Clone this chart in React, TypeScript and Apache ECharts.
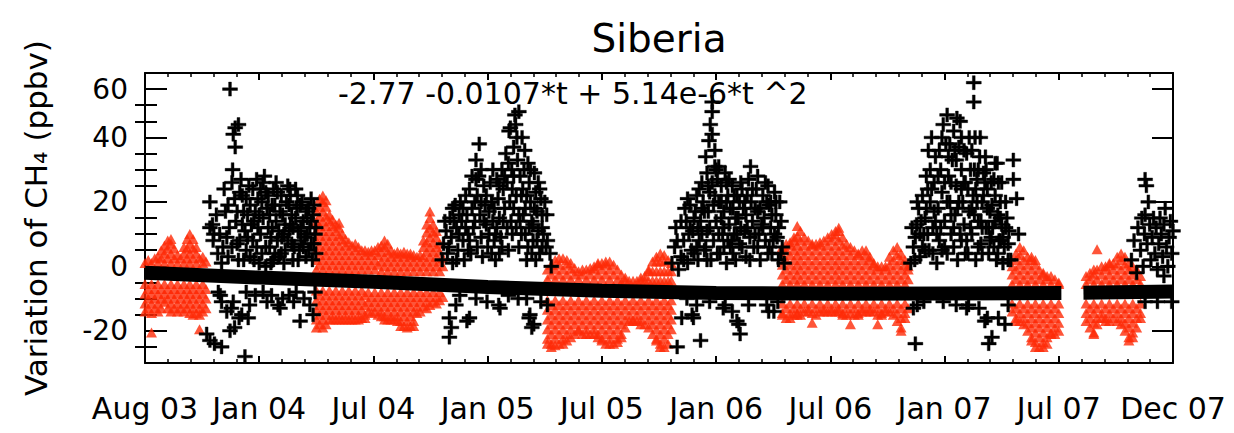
import React, { useEffect, useRef } from 'react';
import * as echarts from 'echarts';

// ---------- axes / text ----------
const chartTitle = 'Siberia';
const fitFormula = '-2.77 -0.0107*t + 5.14e-6*t ^2';
const yAxisName = 'Variation of CH\u2084 (ppbv)';
const xTickLabels = ['Aug 03', 'Jan 04', 'Jul 04', 'Jan 05', 'Jul 05', 'Jan 06', 'Jul 06', 'Jan 07', 'Jul 07', 'Dec 07'];
const xMin = 0;
const xMax = 1584; // days since Aug 03
const xStep = 176;
const yMin = -30;
const yMax = 60;
const yTickValues = [-20, 0, 20, 40, 55];
const yTickLabels = ['-20', '0', '20', '40', '60'];
const yMinorValues = [-25, -15, -10, -5, 5, 10, 15, 25, 30, 35, 45, 50];

// ---------- fitted curve ----------
const fitPart1 = [[0, -2.0], [176, -3.5], [352, -4.8], [528, -6.4], [704, -7.6], [880, -8.3], [1056, -8.5], [1232, -8.4], [1412, -8.3]];
const fitPart2 = [[1446, -8.2], [1584, -7.8]];

// ---------- red (summer) observations: [day, values...] ----------
const redSummer03 = [
  [0, 1, -5.5, -8.5, -11.5, -14], [5, 2, -7, -10, -13], [10, 1, -5.5, -8.5, -11.5, -14.5, -20.5],
  [15, 2.5, -7, -10, -13], [20, 1, 3, -5.5, -8.5, -11.5, -14], [25, 2.5, 5, -7, -10, -13],
  [30, 1, 4, 6.5, -5.5, -8.5, -11], [35, 2.5, 5.5, 8, -7, -10, -13], [40, 1, 4, 7, 8.5, -5.5, -8.5, -11.5, -14],
  [45, 2.5, 5.5, -7, -10, -13], [50, 1, 3.5, -5.5, -8.5, -11.5, -14], [55, 2.5, -7, -10, -13],
  [60, 1, 4, 6, -5.5, -8.5, -11.5, -14], [65, 2.5, 5.5, 8.5, -7, -10, -13], [69, 1, 4, 7, 10, -5.5, -8.5, -11.5, -14.5],
  [74, 2.5, 5.5, 8.5, -7, -10, -13, -15], [79, 1, 4, 6, -5.5, -8.5, -11.5, -14.5], [84, 2.5, -7, -10, -13, -15, -19.5],
  [89, 1, 3, -5.5, -8.5, -11.5, -14], [94, 1.5, -7, -10, -13],
];
const redSummer04 = [
  [264, -1, 2, 5, 8, 11, 14, 17, -7.5, -10.5, -13.5, -16.5, -19], [269, 0.5, 3.5, 6.5, 9.5, 12.5, 15.5, 18.5, 21, -9, -12, -15, -18],
  [274, -1, 2, 5, 8, 11, 14, 17, 20, 22, -7.5, -10.5, -13.5, -16.5, -19], [279, 0.5, 3.5, 6.5, 9.5, 12.5, 15.5, 18.5, 20.5, -9, -12, -15, -18],
  [284, -1, 2, 5, 8, 11, 14, 16, -7.5, -10.5, -13.5, -16.5], [289, 0.5, 3.5, 6.5, 9.5, 12.5, 14.5, -9, -12, -15, -16.5],
  [294, -1, 2, 5, 8, 11, 13, -7.5, -10.5, -13.5, -16.5], [299, 0.5, 3.5, 6.5, 9.5, 12, 13.5, -9, -12, -15, -16.5],
  [304, -1, 2, 5, 8, 10, -7.5, -10.5, -13.5, -16.5], [309, 0.5, 3.5, 6.5, 8.5, -9, -12, -15, -16.5],
  [314, -1, 2, 5, 7.5, -7.5, -10.5, -13.5, -16.5], [319, 0.5, 3.5, 6.5, -9, -12, -15, -16.5],
  [324, -1, 2, 5, 7, -7.5, -10.5, -13.5, -16.5], [329, 0.5, 3.5, 6, -9, -12, -15, -16.5],
  [334, -1, 2, 5, -7.5, -10.5, -13.5, -16], [339, 0.5, 3.5, 5, -9, -12, -15, -16],
  [344, -1, 2, 4.5, -8, -11, -14], [349, 0.5, 3.5, 5, -9.5, -12.5, -14.5],
  [354, -1, 2, 5, -8, -11, -14], [359, 0.5, 3.5, 6, -9.5, -12.5, -15],
  [364, -1.5, 1.5, 4.5, 6.5, -8, -11, -14, -15.5], [369, 0, 3, 6, 8, -9.5, -12.5, -15.5, -16.5],
  [374, -1.5, 1.5, 4.5, 7, -8, -11, -14, -16.5], [379, 0, 3, 5, -9.5, -12.5, -15.5, -16.5],
  [384, -1.5, 1.5, 4, -8, -11, -14, -16.5], [389, 0, 3, 4.5, -9.5, -12.5, -15.5, -17],
  [394, -1.5, 1.5, 4, -8, -11, -14, -17, -18.5], [399, 0, 3, 4.5, -9.5, -12.5, -15.5, -18.5],
  [404, -1.5, 1.5, 4, -8, -11, -14, -17, -19], [409, 0, 3, 4, -9.5, -12.5, -15.5, -18.5],
  [414, -1.5, 1.5, 3.5, -8, -11, -14, -17, -18.5], [419, 0, 3, -9.5, -12.5, -14.5],
  [424, -1.5, 1.5, 3.5, -8, -11, -14], [429, 0, 3, 6, 8, -9.5, -12.5],
  [434, -1.5, 1.5, 4.5, 7.5, 10.5, 13, -8, -11, -13], [439, 0, 3, 6, 9, 12, 15, 17, -9.5, -12],
  [444, -1.5, 1.5, 4.5, 7.5, 10.5, 13, -8, -11], [449, 0, 3, 6, 9, 11, -9.5, -11.5],
  [454, -1.5, 1.5, 4.5, 7, -8, -10.5], [459, 0, 2.5, -9.5],
];
const redSummer05 = [
  [620, -4, -1, -10.5, -13.5, -16.5, -19.5, -22.5, -24], [626, -2.5, 0.5, -12, -15, -18, -21, -24, -25],
  [632, -4, -1, 2, -10.5, -13.5, -16.5, -19.5, -22.5, -24.5], [638, -2.5, 0.5, 2.5, -12, -15, -18, -21, -24],
  [644, -4, -1, 2.5, -10.5, -13.5, -16.5, -19.5, -22.5, -24], [650, -2.5, 0.5, 2, -12, -15, -18, -21, -23],
  [656, -4, -1, 1, -10.5, -13.5, -16.5, -19.5, -22], [662, -2.5, -0.5, -12, -15, -18, -21],
  [668, -4, -1.5, -10.5, -13.5, -16.5, -19.5, -20], [674, -2.5, -1, -12, -15, -18, -21],
  [680, -4, -1, -10.5, -13.5, -16.5, -19.5, -21], [686, -2.5, -0.5, -12, -15, -18, -21],
  [692, -4, -1, 0, -10.5, -13.5, -16.5, -19.5, -21], [698, -2.5, 0.5, 1, -12, -15, -18, -21, -22],
  [704, -4, -1, 1, -10.5, -13.5, -16.5, -19.5, -22.5, -23], [710, -2.5, 0.5, 1.5, -12, -15, -18, -21, -24],
  [716, -4, -1, 1.5, -10.5, -13.5, -16.5, -19.5, -22.5, -24], [722, -2.5, 0.5, -12, -15, -18, -21, -24],
  [728, -4, -1, -10.5, -13.5, -16.5, -19.5, -22.5, -23.5], [734, -5, -2.5, -12, -15, -18, -21, -22],
  [740, -4.5, -3.5, -10.5, -13.5, -16.5, -19], [746, -4.5, -12, -15, -17],
  [752, -4.5, -10.5, -13.5, -16.5, -17], [758, -4.5, -12, -15, -17],
  [764, -4.5, -3.5, -10.5, -13.5, -16.5, -18], [770, -4.5, -3, -12, -15, -18],
  [776, -4.5, -1.5, -1, -10.5, -13.5, -16.5, -19], [782, -4.5, -1.5, 1.5, -12, -15, -18, -21],
  [788, -4.5, -1.5, 1.5, 3, -10.5, -13.5, -16.5, -19.5, -22.5, -23], [794, -4.5, -1.5, 1.5, 4, -12, -15, -18, -21, -24, -25],
  [800, -4.5, -1.5, 1.5, 3.5, -10.5, -13.5, -16.5, -19.5, -22.5, -25], [806, -4.5, -1.5, 2, -12, -15, -18, -21, -24],
  [811, -4.5, -1.5, 1, -10.5, -13.5, -16.5, -19.5],
];
const redSummer06 = [
  [982, -5.5, -2.5, 0.5, 3.5, 6, -11.5, -14.5, -15], [988, -4, -1, 2, 5, 7, -13, -16],
  [994, -5.5, -2.5, 0.5, 3.5, 6.5, 7.5, -11.5, -14.5, -16], [1000, -4, -1, 2, 5, 8, 9, -13, -15],
  [1005, -5.5, -2.5, 0.5, 3.5, 6.5, 9.5, 12.5, -11.5, -14.5, -15], [1010, -4, -1, 2, 5, 8, 11, -13, -15],
  [1016, -5.5, -2.5, 0.5, 3.5, 6.5, 9, -11.5, -14], [1022, -4, -1, 2, 5, 8, -13, -14],
  [1028, -5.5, -2.5, 0.5, 3.5, 6.5, 7, -11.5, -14.5, -17.5], [1034, -4, -1, 2, 5, 7, -13, -15],
  [1040, -5.5, -2.5, 0.5, 3.5, 6.5, 7.5, -11.5, -14], [1046, -4, -1, 2, 5, 8, -13, -14],
  [1052, -5.5, -2.5, 0.5, 3.5, 6.5, 9, -11.5, -14], [1058, -4, -1, 2, 5, 8, 10, -13, -14],
  [1064, -5.5, -2.5, 0.5, 3.5, 6.5, 9.5, 11, -11.5, -14], [1069, -4, -1, 2, 5, 8, 11, 12, -13, -14],
  [1075, -5.5, -2.5, 0.5, 3.5, 6.5, 9, -11.5, -14.5, -15], [1081, -4, -1, 2, 5, 7, -13, -15],
  [1087, -5.5, -2.5, 0.5, 3.5, 6, -11.5, -14.5, -18], [1093, -4, -1, 2, 5, -13, -15],
  [1099, -5.5, -2.5, 0.5, 3.5, 4, -11.5, -14.5, -15], [1105, -4, -1, 2, 5, -13, -14],
  [1111, -5.5, -2.5, 0.5, 3.5, 5, -11.5, -14], [1117, -4, -1, 2, 3, -13, -14],
  [1123, -5.5, -2.5, 0.5, 1, -11.5, -14], [1129, -4, -1, 0, -13, -15, -18],
  [1135, -5.5, -2.5, 0, -11.5, -14.5, -15], [1141, -4, -1, 0, -13, -14],
  [1147, -5.5, -2.5, 0.5, 3, -11.5, -14], [1153, -4, -1, 2, 5, -13, -15],
  [1159, -5.5, -2.5, 0.5, 3.5, 6, -11.5, -14.5, -17], [1165, -4, -1, 2, 4, -13, -16, -19, -20],
  [1171, -5.5, -2.5, 0.5, 2, -11.5, -14.5, -16], [1176, -4, -1, 0, -13],
];
const redSummer07a = [
  [1336, -5.5, -2.5, 0, -11.5, -14], [1342, -4, -1, 2, 4, -13, -16, -17],
  [1348, -5.5, -2.5, 0.5, 3.5, 6, -11.5, -14.5, -17], [1354, -4, -1, 2, 5, -13, -16, -18],
  [1360, -5.5, -2.5, 0.5, 3, -11.5, -14.5, -17.5, -20], [1366, -4, -1, 2, 3, -13, -16, -19, -22, -23],
  [1372, -5.5, -2.5, 0.5, 2, -11.5, -14.5, -17.5, -20.5, -23.5, -25], [1378, -4, -1, -13, -16, -19, -22, -25],
  [1384, -5.5, -2.5, -2, -11.5, -14.5, -17.5, -20.5, -23.5, -25], [1390, -4, -3, -13, -16, -19, -22, -24],
  [1396, -5.5, -3, -11.5, -14.5, -17.5, -20.5, -21], [1402, -4, -13, -16, -19, -21],
  [1408, -5.5, -5, -11.5, -14.5, -17.5, -20],
];
const redSummer07b = [
  [1450, -5.5, -3, -11.5, -14.5, -17], [1456, -4, -2, -13, -16, -19],
  [1462, -5.5, -2.5, -1, -11.5, -14.5, -17.5, -20.5, -21], [1467, -4, -1, 5.3, -13, -16, -18],
  [1474, -5.5, -2.5, 0, -11.5, -14.5, -16], [1480, -4, -1, 0, -13, -16, -17],
  [1486, -5.5, -2.5, 0.5, 1, -11.5, -14.5, -17], [1492, -4, -1, 1, -13, -16],
  [1498, -5.5, -2.5, 0.5, 3, -11.5, -14.5, -17], [1504, -4, -1, 2, 4, -13, -16, -18],
  [1510, -5.5, -2.5, 0.5, 3, -11.5, -14.5, -17.5, -20], [1516, -4, -1, 1, -13, -16, -19, -22, -23],
  [1522, -5.5, -2.5, 0, -11.5, -14.5, -17.5, -20.5, -22], [1528, -4, -1, -13, -16, -19],
  [1534, -5.5, -3, -11.5, -14.5, -16],
];

// ---------- black (winter) observations: [day, value] ----------
const blackWinter0304 = [
  [100, 20], [104, 13], [106, 10], [100, 12], [105, 8], [112, 4], [118, 1], [122, 24], [124, 17], [126, 9], [128, 3],
  [131, 55], [136, 41], [139, 43], [144, 44], [139, 37], [135, 30], [134, 26], [138, 21], [140, 14], [142, 7], [144, 2],
  [148, 27], [150, 22], [152, 17], [154, 11], [156, 5], [160, 25], [162, 19], [164, 13], [166, 8], [168, 2],
  [172, 27], [174, 21], [176, 16], [178, 10], [180, 4], [184, 28], [186, 23], [188, 18], [190, 12], [192, 6], [194, 1],
  [198, 24], [200, 19], [202, 14], [204, 8], [206, 3], [210, 22], [212, 16], [214, 10], [216, 5],
  [220, 25], [223, 24], [222, 19], [224, 13], [226, 7], [228, 2], [232, 24], [234, 18], [236, 11], [238, 5],
  [239, 19], [242, 20], [244, 14], [246, 9], [248, 3], [252, 18], [254, 12], [256, 7], [258, 2], [259, 16], [262, 10], [263, 4],
  [115, 10], [120, 6], [130, 12], [146, 8], [150, 13], [158, 16], [162, 3], [170, 17], [174, 12], [178, 24], [182, 15],
  [186, 6], [196, 12], [196, 19], [200, 4], [204, 23], [208, 17], [211, 9], [214, 1], [218, 20], [222, 11], [226, 16],
  [230, 6], [235, 22], [240, 12], [244, 6], [250, 15], [256, 21], [260, 7], [186, 0],
  [110, 16], [128, 19], [134, 6], [142, 17], [146, 23], [152, 2], [156, 21], [158, 9], [166, 24], [168, 14], [172, 6],
  [176, 1], [180, 20], [182, 26], [190, 22], [192, 16], [194, 9], [198, 2], [202, 26], [206, 11], [210, 4], [216, 13],
  [220, 8], [224, 22], [228, 12], [232, 15], [236, 2], [240, 8], [248, 17], [250, 10], [252, 5], [256, 14], [260, 19], [263, 12],
  [95, -21], [100, -23], [107, -24], [113, -8], [116, -9], [118, -11], [118, -25], [126, -14], [131, -20], [133, -13], [136, -11],
  [138, -19], [145, -16], [149, -15], [154, -28], [156, -8], [159, -16], [161, -12], [170, -9], [182, -8], [188, -11],
  [195, -9], [205, -12], [208, -13], [212, -10], [222, -9], [229, -11], [233, -8], [239, -17], [245, -10], [254, -12], [259, -15], [262, -8],
];
const blackWinter0405 = [
  [458, 2], [460, 7], [464, 11], [466, 4], [470, 15], [472, 9], [474, 1], [478, 19], [480, 12], [482, 5],
  [486, 20], [488, 14], [490, 8], [492, 2], [496, 16], [498, 10], [500, 24], [502, 4], [504, 18], [506, 12],
  [510, 33], [510, 27], [512, 22], [515, 38], [516, 16], [518, 9], [520, 3], [522, 25], [524, 19], [526, 13],
  [528, 6], [532, 26], [534, 20], [536, 14], [538, 8], [540, 2], [542, 27], [544, 21], [546, 15], [548, 9],
  [550, 30], [552, 24], [554, 18], [556, 35], [558, 12], [560, 5], [561, 42], [563, 43], [565, 30], [566, 24],
  [568, 37], [568, 18], [570, 47], [571, 44], [572, 12], [573, 40], [576, 48], [576, 6], [578, 28], [580, 22],
  [581, 40], [583, 16], [585, 36], [586, 10], [588, 2], [590, 32], [592, 26], [594, 20], [596, 14], [598, 8],
  [600, 29], [602, 23], [604, 17], [606, 11], [608, 4], [610, 21], [612, 16], [614, 10], [616, 20], [618, 6],
  [619, 16], [620, 8], [624, 4], [626, 0],
  [476, 14], [484, 10], [494, 22], [498, 5], [508, 14], [514, 28], [518, 20], [530, 17], [536, 30], [540, 10],
  [546, 4], [552, 14], [558, 26], [562, 20], [566, 10], [574, 33], [578, 14], [582, 24], [586, 18], [590, 6],
  [594, 30], [598, 13], [602, 2], [606, 26], [612, 6],
  [462, 14], [468, 6], [474, 18], [480, 2], [484, 16], [490, 18], [494, 12], [500, 8], [504, 28], [508, 20], [512, 6],
  [518, 30], [522, 14], [526, 22], [530, 10], [534, 4], [538, 18], [542, 12], [546, 25], [550, 6], [554, 28], [560, 32],
  [564, 14], [568, 28], [572, 22], [576, 16], [580, 10], [584, 30], [588, 22], [592, 12], [596, 4], [600, 18], [604, 8],
  [608, 24], [612, 12],
  [469, -16], [469, -22], [472, -19], [479, -12], [485, -9], [496, -17], [500, -16], [510, -10], [527, -11], [545, -12],
  [547, -13], [560, -9], [575, -10], [588, -10], [592, -16], [593, -15], [596, -19], [599, -18], [610, -11], [620, -12],
];
const blackWinter0506 = [
  [812, 1], [816, 6], [818, 12], [822, -1], [826, 3], [830, 8], [834, 14], [836, 1], [840, 19], [842, 5], [844, 11],
  [848, 17], [850, 22], [852, 2], [854, 8], [856, 14], [858, 26], [860, 20], [862, 5], [864, 34], [866, 11], [866, 29],
  [868, 17], [869, 39], [870, 23], [871, 44], [872, 2], [874, 51], [874, 48], [874, 41], [876, 8], [878, 36], [878, 31],
  [880, 14], [882, 27], [884, 20], [886, 4], [888, 25], [890, 10], [892, 17], [894, 29], [896, 1], [898, 22], [900, 13],
  [902, 6], [905, 25], [906, 18], [908, 10], [910, 2], [912, 22], [914, 15], [916, 7], [920, 24], [922, 18], [924, 11],
  [926, 3], [930, 27], [933, 31], [934, 20], [936, 14], [938, 6], [942, 24], [944, 17], [946, 10], [948, 2], [952, 22],
  [954, 15], [956, 8], [960, 25], [962, 19], [964, 12], [966, 4], [970, 23], [972, 16], [974, 9], [976, 2], [980, 14],
  [982, 6], [985, 1],
  [832, 18], [838, 10], [846, 4], [852, 12], [858, 18], [864, 6], [868, 25], [876, 19], [880, 30], [884, 10], [888, 15],
  [892, 6], [896, 20], [900, 27], [904, 8], [910, 15], [916, 20], [918, 12], [926, 16], [928, 22], [932, 9], [940, 18],
  [944, 28], [950, 13], [958, 20], [962, 6], [966, 16], [970, 10], [978, 20],
  [820, 8], [826, 14], [830, 2], [836, 21], [840, 12], [846, 15], [850, 6], [854, 24], [858, 10], [862, 17], [866, 2],
  [870, 12], [874, 26], [878, 22], [882, 4], [884, 31], [888, 20], [892, 12], [896, 26], [898, 8], [902, 18], [906, 4],
  [908, 22], [912, 10], [918, 26], [920, 6], [924, 20], [928, 12], [932, 2], [936, 24], [940, 10], [944, 6], [948, 18],
  [952, 12], [956, 26], [960, 4], [964, 20], [968, 8], [972, 20], [976, 12], [980, 4],
  [820, -25], [827, -16], [835, -10], [843, -15], [845, -16], [850, -12], [856, -23], [870, -11], [891, -13], [894, -12],
  [905, -14], [912, -17], [915, -18], [917, -21], [930, -12], [958, -12], [961, -14], [969, -14], [975, -11],
];
const blackWinter0607 = [
  [1180, 1], [1184, 6], [1187, 9], [1189, 13], [1192, 18], [1194, 3], [1198, 22], [1200, 10], [1202, 15], [1204, 28],
  [1207, 36], [1208, 5], [1210, 20], [1212, 40], [1214, 12], [1216, 26], [1218, 34], [1220, 1], [1222, 18], [1224, 8],
  [1226, 30], [1228, 23], [1230, 44], [1232, 14], [1234, 38], [1236, 47], [1236, 4], [1238, 28], [1240, 20], [1242, 10],
  [1244, 33], [1246, 42], [1248, 16], [1250, 25], [1251, 46], [1252, 2], [1254, 37], [1256, 45], [1258, 30], [1258, 8],
  [1260, 20], [1262, 13], [1264, 26], [1266, 35], [1268, 4], [1270, 17], [1272, 30], [1274, 10], [1276, 22], [1277, 57],
  [1277, 51], [1279, 40], [1280, 2], [1282, 27], [1284, 14], [1286, 34], [1287, 40], [1288, 7], [1290, 20], [1292, 29],
  [1295, 34], [1296, 12], [1298, 24], [1300, 4], [1302, 17], [1304, 9], [1305, 19], [1308, 27], [1310, 14], [1312, 2],
  [1313, 32], [1315, 26], [1316, 8], [1318, 20], [1320, 13], [1322, 1], [1324, 6], [1328, 15], [1330, 7], [1331, 11],
  [1334, 2], [1338, 33], [1338, 27], [1343, 21], [1346, 10],
  [1196, 14], [1202, 5], [1206, 24], [1210, 30], [1216, 17], [1220, 10], [1224, 36], [1228, 5], [1232, 26], [1240, 38],
  [1242, 16], [1246, 6], [1250, 33], [1254, 20], [1258, 40], [1262, 26], [1266, 8], [1270, 40], [1274, 18], [1278, 30],
  [1282, 20], [1284, 6], [1290, 12], [1294, 26], [1298, 18], [1302, 8], [1306, 12], [1310, 22], [1314, 4], [1318, 15],
  [1322, 9], [1326, 20],
  [1182, 12], [1186, 2], [1190, 20], [1194, 10], [1198, 6], [1204, 18], [1206, 10], [1212, 24], [1214, 4], [1218, 14],
  [1222, 28], [1226, 12], [1228, 40], [1232, 6], [1236, 20], [1238, 34], [1242, 26], [1246, 12], [1248, 36], [1252, 18],
  [1256, 10], [1258, 24], [1262, 36], [1264, 4], [1268, 24], [1272, 12], [1274, 36], [1278, 16], [1280, 24], [1284, 30],
  [1288, 14], [1290, 4], [1292, 22], [1296, 30], [1300, 12], [1304, 26], [1308, 6], [1310, 32], [1314, 16], [1318, 8],
  [1320, 26], [1326, 12], [1330, 2],
  [1184, -13], [1187, -24], [1190, -12], [1200, -11], [1230, -11], [1250, -12], [1266, -13], [1269, -12], [1285, -13],
  [1294, -17], [1298, -16], [1300, -24], [1305, -22], [1315, -16], [1325, -18], [1330, -12],
];
const blackWinter0708 = [
  [1520, 2], [1524, 8], [1528, -2], [1530, 12], [1534, 5], [1538, 0], [1540, 10], [1541, 16], [1541, 27], [1543, 25],
  [1544, 7], [1548, 13], [1550, 2], [1552, 9], [1556, 4], [1558, 12], [1560, -1], [1562, 7], [1566, 10], [1568, 3],
  [1570, 13], [1574, 6], [1576, 0], [1578, 9], [1582, 4], [1584, 11], [1536, 15], [1546, 20], [1554, 15], [1564, 15],
  [1572, 18], [1580, 14], [1570, -3], [1541, -11], [1560, -11], [1582, -11],
];

const redColumns = [redSummer03, redSummer04, redSummer05, redSummer06, redSummer07a, redSummer07b];
const blackGroups = [blackWinter0304, blackWinter0405, blackWinter0506, blackWinter0607, blackWinter0708];

const FONT = '"DejaVu Sans", "Liberation Sans", sans-serif';
const RED = '#fe2b08';
const PLUS = 'path://M0,5.7H5.7V0H8.3V5.7H14V8.3H8.3V14H5.7V8.3H0Z';

export default function App() {
  const ref = useRef<HTMLDivElement>(null);
  useEffect(() => {
    if (!ref.current) return;
    const chart = echarts.init(ref.current, undefined, { renderer: 'svg' });
    const redPoints = redColumns.flatMap((cols) =>
      cols.flatMap(([d, ...vs]) => vs.map((v) => [d, v]))
    );
    const blackPoints = blackGroups.flat();

    const yCommon = { type: 'value', min: yMin, max: yMax, splitLine: { show: false } };
    const tickLine = { color: '#000', width: 2 };

    chart.setOption({
      animation: false,
      backgroundColor: '#fff',
      grid: { left: 145, right: 61, top: 73, bottom: 70 },
      graphic: [
        { type: 'text', x: 659, y: 38, z: 0, style: { text: chartTitle, fontSize: 39, fontFamily: FONT, fill: '#000', align: 'center', verticalAlign: 'middle' } },
        { type: 'text', x: 338, y: 93, z: 0, style: { text: fitFormula, fontSize: 30, fontFamily: FONT, fill: '#000', align: 'left', verticalAlign: 'middle' } },
      ],
      xAxis: [
        {
          type: 'value', position: 'bottom', min: xMin, max: xMax, interval: xStep,
          splitLine: { show: false },
          axisLine: { show: true, onZero: false, lineStyle: tickLine },
          axisTick: { show: true, inside: true, length: 7, lineStyle: tickLine },
          minorTick: { show: true, splitNumber: 5, length: 4, lineStyle: { color: '#000', width: 1.5 } },
          axisLabel: {
            show: true, margin: 30, fontSize: 30, fontFamily: FONT, color: '#000', hideOverlap: false,
            showMinLabel: true, showMaxLabel: true,
            formatter: (v: number) => xTickLabels[Math.round((v - xMin) / xStep)] ?? '',
          },
        },
        {
          type: 'value', position: 'top', min: xMin, max: xMax, interval: xStep,
          splitLine: { show: false },
          axisLine: { show: true, onZero: false, lineStyle: tickLine },
          axisTick: { show: true, inside: true, length: 7, lineStyle: tickLine },
          minorTick: { show: true, splitNumber: 5, length: 4, lineStyle: { color: '#000', width: 1.5 } },
          axisLabel: { show: false },
        },
      ],
      yAxis: [
        {
          ...yCommon, position: 'left',
          name: yAxisName, nameLocation: 'middle', nameGap: 94, nameRotate: 90,
          nameTextStyle: { fontSize: 31, fontFamily: FONT, color: '#000' },
          axisLine: { show: true, onZero: false, lineStyle: tickLine },
          axisTick: { show: true, inside: true, length: 22, customValues: yTickValues, lineStyle: tickLine },
          axisLabel: {
            show: true, margin: 17, fontSize: 28, fontFamily: FONT, color: '#000', customValues: yTickValues,
            formatter: (v: number) => yTickLabels[yTickValues.indexOf(v)] ?? '',
          },
        },
        {
          ...yCommon, position: 'left',
          axisLine: { show: false },
          axisTick: { show: true, inside: true, length: 12, customValues: yMinorValues, lineStyle: tickLine },
          axisLabel: { show: false },
        },
        {
          ...yCommon, position: 'right',
          axisLine: { show: true, onZero: false, lineStyle: tickLine },
          axisTick: { show: true, inside: true, length: 21, customValues: yTickValues, lineStyle: tickLine },
          axisLabel: { show: false },
        },
        {
          ...yCommon, position: 'right',
          axisLine: { show: false },
          axisTick: { show: true, inside: true, length: 10, customValues: yMinorValues, lineStyle: tickLine },
          axisLabel: { show: false },
        },
      ],
      series: [
        {
          type: 'scatter', name: 'summer', data: redPoints, xAxisIndex: 0, yAxisIndex: 0,
          symbol: 'triangle', symbolSize: [11, 10], itemStyle: { color: RED }, z: 2, silent: true, clip: true,
        },
        {
          type: 'scatter', name: 'winter', data: blackPoints, xAxisIndex: 0, yAxisIndex: 0,
          symbol: PLUS, symbolSize: [15, 14], itemStyle: { color: '#000', borderColor: '#000', borderWidth: 0.4, opacity: 1 },
          z: 3, silent: true, clip: true,
        },
        {
          type: 'line', name: 'fit1', data: fitPart1, xAxisIndex: 0, yAxisIndex: 0, symbol: 'none', showSymbol: false,
          lineStyle: { color: '#000', width: 14, cap: 'butt' }, z: 4, silent: true, clip: true,
        },
        {
          type: 'line', name: 'fit2', data: fitPart2, xAxisIndex: 0, yAxisIndex: 0, symbol: 'none', showSymbol: false,
          lineStyle: { color: '#000', width: 14, cap: 'butt' }, z: 4, silent: true, clip: true,
        },
      ],
    });
    return () => chart.dispose();
  }, []);
  return <div ref={ref} style={{ position: 'fixed', left: 0, top: 0, width: 1234, height: 433, background: '#fff' }} />;
}
